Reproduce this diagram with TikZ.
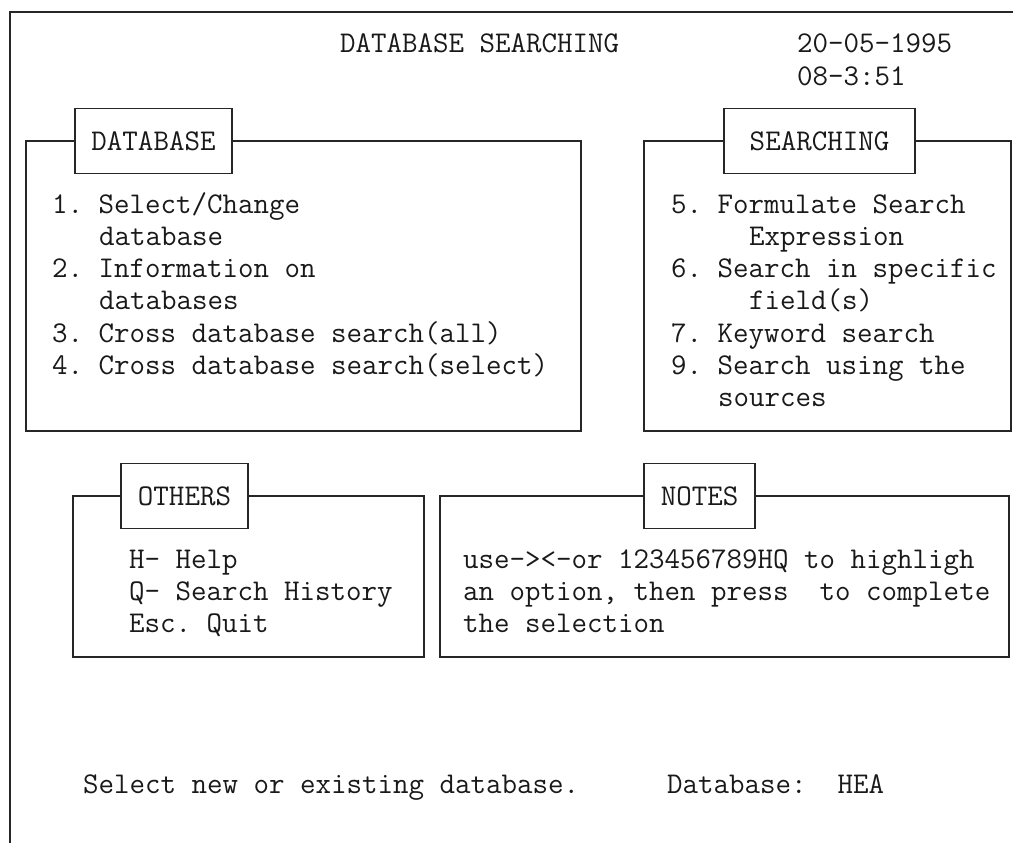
\documentclass[tikz,border=0pt]{standalone}
\usepackage{fontspec}
\newcommand{\scrfont}{\ttfamily\frenchspacing\fontsize{30.1}{36}\selectfont}
\tikzset{%
  myframe/.style={draw=black!85, line width=1.6pt},
  mytab/.style={rectangle, draw=black!85, fill=white, line width=1.6pt, minimum height=65pt, inner sep=0pt, font=\scrfont, text=black!90},
  mytext/.style={anchor=base west, inner sep=0pt, font=\scrfont, text=black!90}
}

\begin{document}
\begin{tikzpicture}[x=1pt, y=-1pt]
  \tikzset{mytext/.style={anchor=base west, inner sep=0pt, font=\scrfont, text=black!90}};

\useasboundingbox (0,0) rectangle (1013,843);

% screen border
\draw [myframe] (1013,12) -- (10,12) -- (10,843);

% heading
\node [mytext] (title) at (340,53) {DATABASE SEARCHING};
\node [mytext] (date) at (797,53) {20-05-1995};
\node [mytext] (time) at (797,86) {08-3:51};

% panels
\draw [myframe] (26,141) rectangle (581,431);
\draw [myframe] (644,141) rectangle (1011,431);
\draw [myframe] (73,496) rectangle (424,657);
\draw [myframe] (440,496) rectangle (1009,657);

\node [mytab, minimum width=157] (dbtab) at (153.5,141) {DATABASE};
\node [mytab, minimum width=191] (srchtab) at (819.5,141) {SEARCHING};
\node [mytab, minimum width=127] (othtab) at (184.5,496) {OTHERS};
\node [mytab, minimum width=111] (notetab) at (699.5,496) {NOTES};

% menu entries
\foreach \k / \x / \txt in {0/52/{1. Select/Change}, 1/99/database, 2/52/{2. Information on},
                           3/99/databases, 4/52/{3. Cross database search(all)},
                           5/52/{4. Cross database search(select)}}{
  \node [mytext] (db\k) at (\x, 213+32.3*\k) {\txt};
}

\foreach \k / \x / \txt in {0/671/{5. Formulate Search}, 1/749/Expression, 2/671/{6. Search in specific},
                           3/749/field(s), 4/671/{7. Keyword search}, 5/671/{9. Search using the},
                           6/718/sources}{
  \node [mytext] (srch\k) at (\x, 213+32.3*\k) {\txt};
}

% keys and notes
\foreach \k / \txt in {0/{H- Help}, 1/{Q- Search History}, 2/{Esc. Quit}}{
  \node [mytext] (oth\k) at (129, 568+32*\k) {\txt};
}

\foreach \k / \txt in {0/{use-><-or 123456789HQ to highligh}, 1/{an option, then press\ \ to complete},
                       2/{the selection}}{
  \node [mytext] (note\k) at (463, 568+32*\k) {\txt};
}

% status line
\node [mytext] (status) at (83,793) {Select new or existing database.};
\node [mytext] (dbname) at (667,793) {Database:\ \ HEA};

\end{tikzpicture}
\end{document}
